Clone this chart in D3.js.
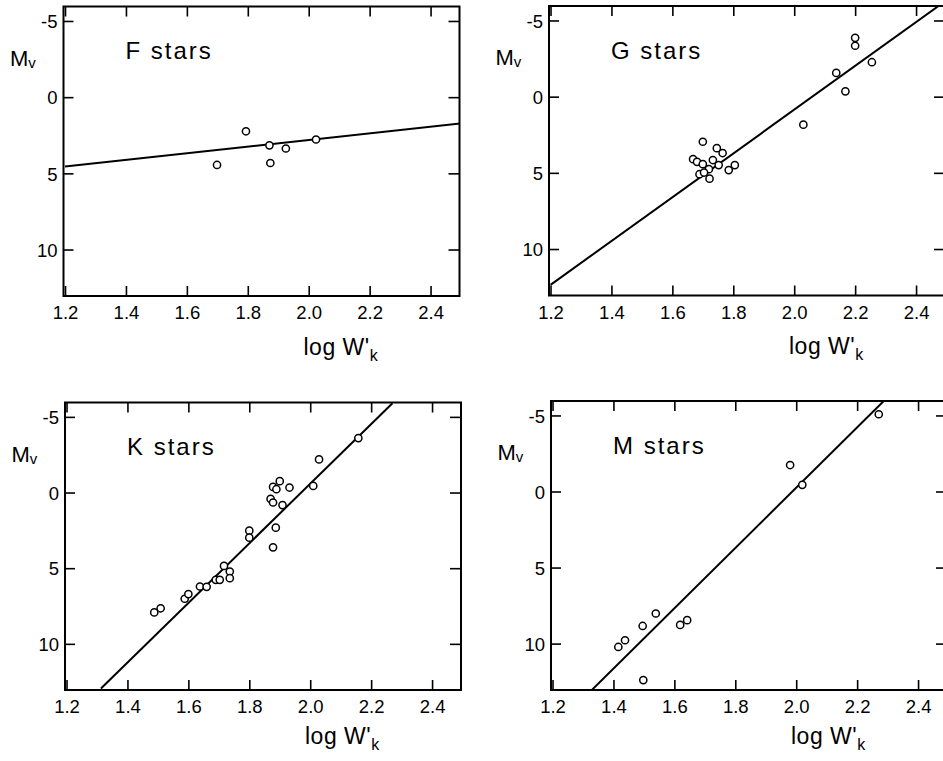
<!DOCTYPE html>
<html>
<head>
<meta charset="utf-8">
<script src="https://cdn.jsdelivr.net/npm/d3@7/dist/d3.min.js"></script>
<style>
  html, body { margin: 0; padding: 0; background: #fff; }
  svg { display: block; }
  text { font-family: "Liberation Sans", Arial, Helvetica, sans-serif; fill: #000; }
</style>
</head>
<body>
<svg id="chart" width="943" height="761"></svg>
<script>
// ---------------- DATA ----------------
const panelNames = ["F stars", "G stars", "K stars", "M stars"];

const xTickValues = [1.2, 1.4, 1.6, 1.8, 2.0, 2.2, 2.4];
const xTickLabels = ["1.2", "1.4", "1.6", "1.8", "2.0", "2.2", "2.4"];
const yTickValues = [-5, 0, 5, 10];
const yTickLabels = ["-5", "0", "5", "10"];

// F stars
const fLogW = [1.699, 1.794, 1.871, 1.874, 1.925, 2.024];
const fMv   = [4.45, 2.24, 3.16, 4.32, 3.37, 2.78];
const fFitX = [1.2, 2.5];
const fFitY = [4.55, 1.72];

// G stars
const gLogW = [1.700, 1.746, 1.765, 1.668, 1.681, 1.700, 1.733, 1.752, 1.720, 1.689, 1.704, 1.722, 1.785, 1.805,
               2.030, 2.138, 2.168, 2.255, 2.200, 2.200];
const gMv   = [2.96, 3.38, 3.70, 4.10, 4.28, 4.43, 4.16, 4.49, 4.76, 5.09, 4.98, 5.38, 4.82, 4.49,
               1.84, -1.56, -0.35, -2.26, -3.86, -3.34];
const gFitX = [1.2, 2.5];
const gFitY = [12.35, -6.33];

// K stars
const kLogW = [1.488, 1.509, 1.588, 1.600, 1.638, 1.660, 1.690, 1.703, 1.717, 1.736, 1.736, 1.800, 1.800,
               1.870, 1.878, 1.878, 1.889, 1.900, 1.909, 1.887, 1.878, 1.932, 2.010, 2.029, 2.158];
const kMv   = [7.92, 7.65, 7.02, 6.71, 6.21, 6.23, 5.77, 5.77, 4.85, 5.22, 5.66, 2.52, 2.98,
               0.42, 0.66, -0.37, -0.22, -0.75, 0.83, 2.32, 3.62, -0.33, -0.44, -2.19, -3.60];
const kFitX = [1.313, 2.27];
const kFitY = [12.95, -5.90];

// M stars
const mLogW = [1.416, 1.438, 1.496, 1.498, 1.539, 1.619, 1.642, 1.980, 2.020, 2.271];
const mMv   = [10.22, 9.78, 8.84, 12.40, 8.02, 8.77, 8.46, -1.74, -0.44, -5.08];
const mFitX = [1.32, 2.29];
const mFitY = [13.23, -6.00];

const seriesX   = [fLogW, gLogW, kLogW, mLogW];
const seriesY   = [fMv, gMv, kMv, mMv];
const fitXs     = [fFitX, gFitX, kFitX, mFitX];
const fitYs     = [fFitY, gFitY, kFitY, mFitY];

// ---------------- LAYOUT ----------------
const xDomain = [1.195, 2.495];
const yDomain = [-5.95, 13.05];
const boxes = [
  { left: 63.5, top: 6.5,  w: 396, h: 289.5, xl: 59 },
  { left: 549,  top: 6,    w: 396, h: 289.5, xl: 58 },
  { left: 65,   top: 402.5,w: 396, h: 287.5, xl: 54 },
  { left: 551,  top: 401,  w: 396, h: 289,   xl: 54 }
];

const svg = d3.select("#chart");

boxes.forEach((b, i) => {
  const g = svg.append("g").attr("transform", `translate(${b.left},${b.top})`);
  const x = d3.scaleLinear().domain(xDomain).range([0, b.w]);
  const y = d3.scaleLinear().domain(yDomain).range([0, b.h]);

  const clipId = "clip" + i;
  g.append("clipPath").attr("id", clipId)
    .append("rect").attr("x", 0).attr("y", 0).attr("width", b.w).attr("height", b.h);

  // axes (ticks inside the frame)
  const ax = (gen, tf) => {
    const a = g.append("g").attr("transform", tf).call(gen);
    a.select(".domain").remove();
    a.selectAll(".tick line").attr("stroke", "#000").attr("stroke-width", 1.6);
    a.selectAll(".tick text").style("font-size", "18.5px").attr("fill", "#000");
    return a;
  };
  ax(d3.axisBottom(x).tickValues(xTickValues).tickFormat((d, j) => xTickLabels[j])
      .tickSizeInner(-10).tickSizeOuter(0).tickPadding(10), `translate(0,${b.h})`);
  ax(d3.axisTop(x).tickValues(xTickValues).tickFormat("")
      .tickSizeInner(-10).tickSizeOuter(0), `translate(0,0)`);
  const yl = ax(d3.axisLeft(y).tickValues(yTickValues).tickFormat((d, j) => yTickLabels[j])
      .tickSizeInner(-10).tickSizeOuter(0).tickPadding(6), `translate(0,0)`);
  yl.selectAll(".tick text").attr("dy", "0.36em");
  ax(d3.axisRight(y).tickValues(yTickValues).tickFormat("")
      .tickSizeInner(-11).tickSizeOuter(0), `translate(${b.w},0)`);

  // frame
  g.append("rect").attr("x", 0).attr("y", 0).attr("width", b.w).attr("height", b.h)
    .attr("fill", "none").attr("stroke", "#000").attr("stroke-width", 2);

  // regression line
  const fit = fitXs[i].map((v, j) => [v, fitYs[i][j]]);
  g.append("path").datum(fit)
    .attr("clip-path", `url(#${clipId})`)
    .attr("d", d3.line().x(d => x(d[0])).y(d => y(d[1])))
    .attr("fill", "none").attr("stroke", "#000").attr("stroke-width", 2);

  // points
  const pts = seriesX[i].map((v, j) => [v, seriesY[i][j]]);
  g.selectAll("circle.pt").data(pts).enter().append("circle")
    .attr("class", "pt")
    .attr("cx", d => x(d[0])).attr("cy", d => y(d[1]))
    .attr("r", 3.6)
    .attr("fill", "#fff").attr("stroke", "#000").attr("stroke-width", 1.5);

  // panel title
  g.append("text").attr("x", 62).attr("y", 52.5)
    .style("font-size", "24px").style("letter-spacing", "2px")
    .text(panelNames[i]);

  // y label M_v
  const my = g.append("text").attr("x", -53.5).attr("y", 59).style("font-size", "22px");
  my.append("tspan").text("M");
  my.append("tspan").attr("dy", 2).style("font-size", "15px").text("v");

  // x label log W'_k
  const xlab = g.append("text").attr("x", 240).attr("y", b.h + b.xl)
    .style("font-size", "23px").style("letter-spacing", "0.5px");
  xlab.append("tspan").text("log W'");
  xlab.append("tspan").attr("dy", 6).style("font-size", "16px").text("k");
});
</script>
</body>
</html>
